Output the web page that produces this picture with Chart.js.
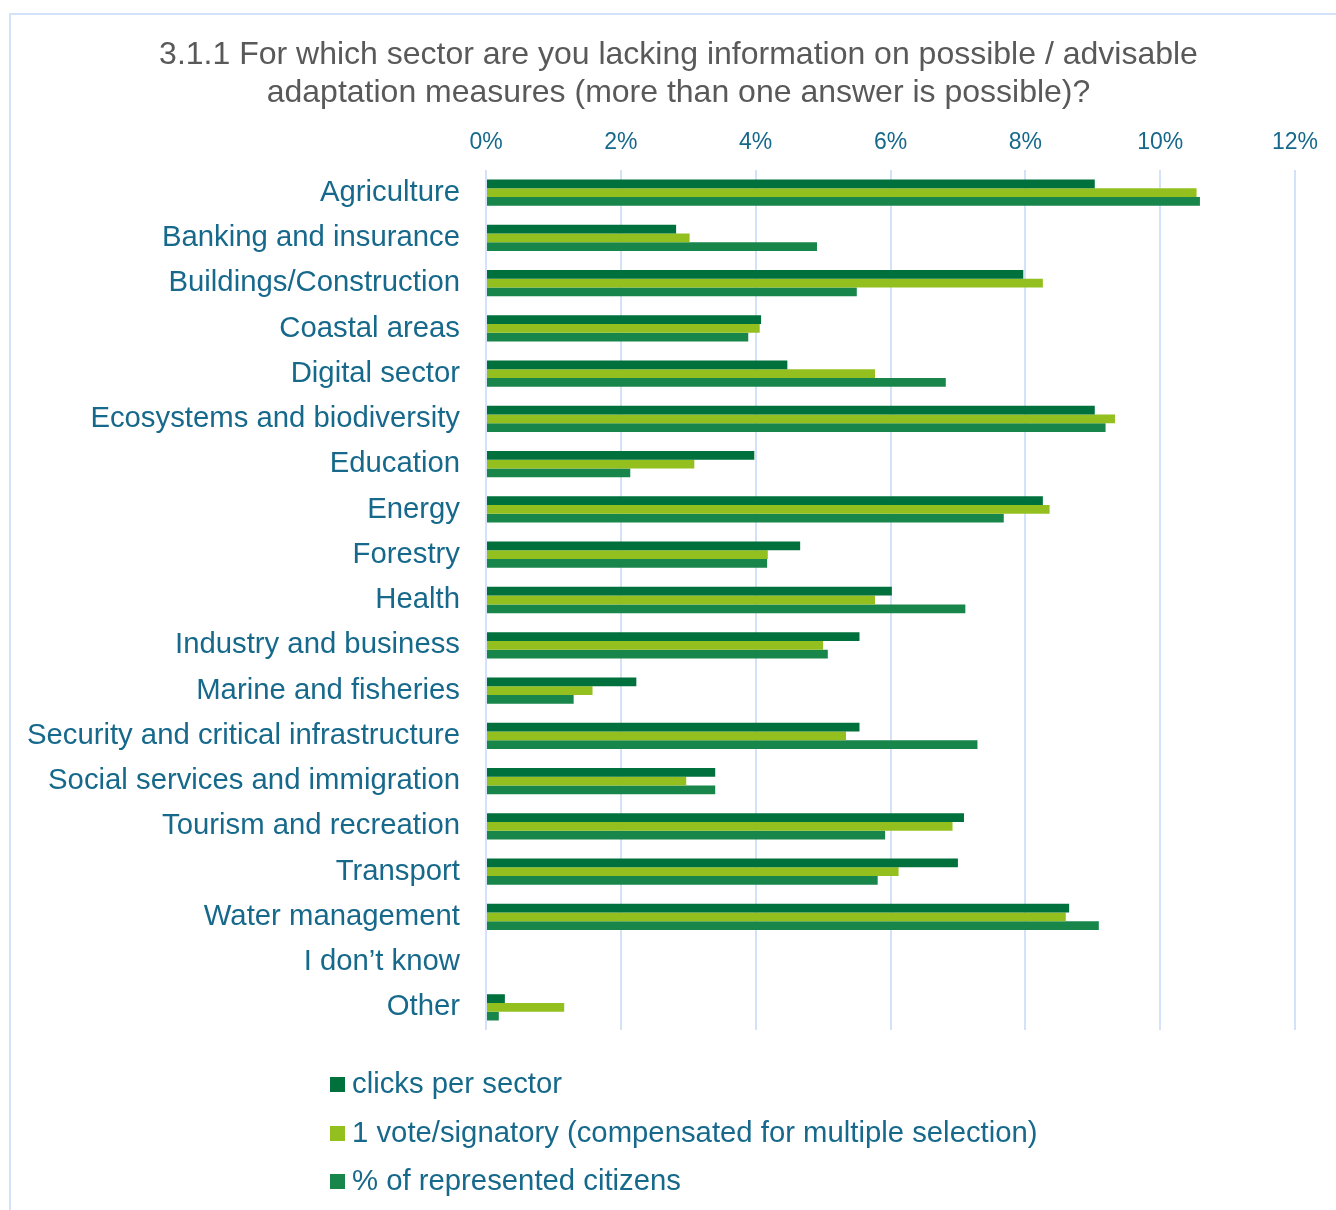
<!DOCTYPE html>
<html>
<head>
<meta charset="utf-8">
<script src="https://cdn.jsdelivr.net/npm/chart.js@4/dist/chart.umd.min.js"></script>
<style>
  html, body { margin: 0; padding: 0; background: #fff; overflow: hidden; }
  body { width: 1336px; height: 1210px; position: relative; font-family: "Liberation Sans", Arial, sans-serif; }
  #frame { position: absolute; left: 9px; top: 13px; width: 1400px; height: 1300px; border: 2px solid #d3e1f9; box-sizing: border-box; }
  #chart-wrap { position: absolute; left: 0; top: 0; width: 1336px; height: 1210px; }
  #legend { position: absolute; left: 330px; top: 1062px; margin: 0; padding: 0; list-style: none; }
  #legend li { height: 48.5px; line-height: 42px; font-size: 29.3px; color: #17698c; white-space: nowrap; }
  #legend span { display: inline-block; width: 15px; height: 15px; margin-right: 7px; vertical-align: 1px; }
</style>
</head>
<body>
<div id="frame"></div>
<div id="chart-wrap"><canvas id="sector-chart"></canvas></div>
<ul id="legend"></ul>
<script>
const sectors = [
  'Agriculture', 'Banking and insurance', 'Buildings/Construction', 'Coastal areas',
  'Digital sector', 'Ecosystems and biodiversity', 'Education', 'Energy', 'Forestry',
  'Health', 'Industry and business', 'Marine and fisheries',
  'Security and critical infrastructure', 'Social services and immigration',
  'Tourism and recreation', 'Transport', 'Water management', 'I don\u2019t know', 'Other'
];

// values in percent
const clicksPerSector = [9.03, 2.82, 7.97, 4.08, 4.47, 9.03, 3.98, 8.26, 4.66, 6.02, 5.54, 2.23, 5.54, 3.40, 7.09, 7.00, 8.65, 0, 0.28];
const oneVotePerSignatory = [10.54, 3.02, 8.26, 4.06, 5.77, 9.33, 3.09, 8.36, 4.18, 5.77, 5.00, 1.58, 5.34, 2.97, 6.92, 6.12, 8.60, 0, 1.16];
const representedCitizens = [10.59, 4.91, 5.50, 3.89, 6.82, 9.19, 2.14, 7.68, 4.17, 7.11, 5.07, 1.30, 7.29, 3.40, 5.92, 5.81, 9.09, 0, 0.19];

const titleLines = [
  '3.1.1 For which sector are you lacking information on possible / advisable',
  'adaptation measures (more than one answer is possible)?'
];

const TEXT_BLUE = '#17698c';
const GRID_BLUE = '#d3e1f9';

// centre the title over the whole frame rather than over the padded layout box
const titleShift = {
  id: 'titleShift',
  afterLayout(chart) {
    if (chart.titleBlock) chart.titleBlock.left = 62;
  }
};

const ctx = document.getElementById('sector-chart').getContext('2d');
const chart = new Chart(ctx, {
  type: 'bar',
  data: {
    labels: sectors,
    datasets: [
      { label: 'clicks per sector', data: clicksPerSector, backgroundColor: '#00703c' },
      { label: '1 vote/signatory (compensated for multiple selection)', data: oneVotePerSignatory, backgroundColor: '#93c01f' },
      { label: '% of represented citizens', data: representedCitizens, backgroundColor: '#18864b' }
    ]
  },
  plugins: [titleShift],
  options: {
    indexAxis: 'y',
    responsive: true,
    maintainAspectRatio: false,
    animation: false,
    datasets: {
      bar: { categoryPercentage: 0.58, barPercentage: 1.0 }
    },
    layout: { padding: { left: 0, right: 41, top: 0, bottom: 180 } },
    plugins: {
      legend: { display: false },
      tooltip: { enabled: false },
      title: {
        display: true,
        text: titleLines,
        color: '#595959',
        font: { family: 'Liberation Sans', size: 32, weight: 'normal', lineHeight: 38 / 32 },
        padding: { top: 36, bottom: 8 }
      }
    },
    scales: {
      x: {
        position: 'top',
        min: 0,
        max: 12,
        ticks: {
          stepSize: 2,
          color: TEXT_BLUE,
          padding: 14,
          font: { family: 'Liberation Sans', size: 23 },
          callback: v => v + '%'
        },
        grid: { color: GRID_BLUE, lineWidth: 2, drawTicks: false },
        border: { display: false },
        afterFit: scale => { scale.height = 50; }
      },
      y: {
        ticks: {
          color: TEXT_BLUE,
          padding: 26,
          font: { family: 'Liberation Sans', size: 29.3 }
        },
        grid: { display: false, drawTicks: false },
        border: { display: false },
        afterFit: scale => { scale.width = 486; }
      }
    }
  }
});

// legend as a plain list under the chart
const legendEl = document.getElementById('legend');
chart.data.datasets.forEach(ds => {
  const li = document.createElement('li');
  const box = document.createElement('span');
  box.style.background = ds.backgroundColor;
  li.appendChild(box);
  li.appendChild(document.createTextNode(ds.label));
  legendEl.appendChild(li);
});
</script>
</body>
</html>
